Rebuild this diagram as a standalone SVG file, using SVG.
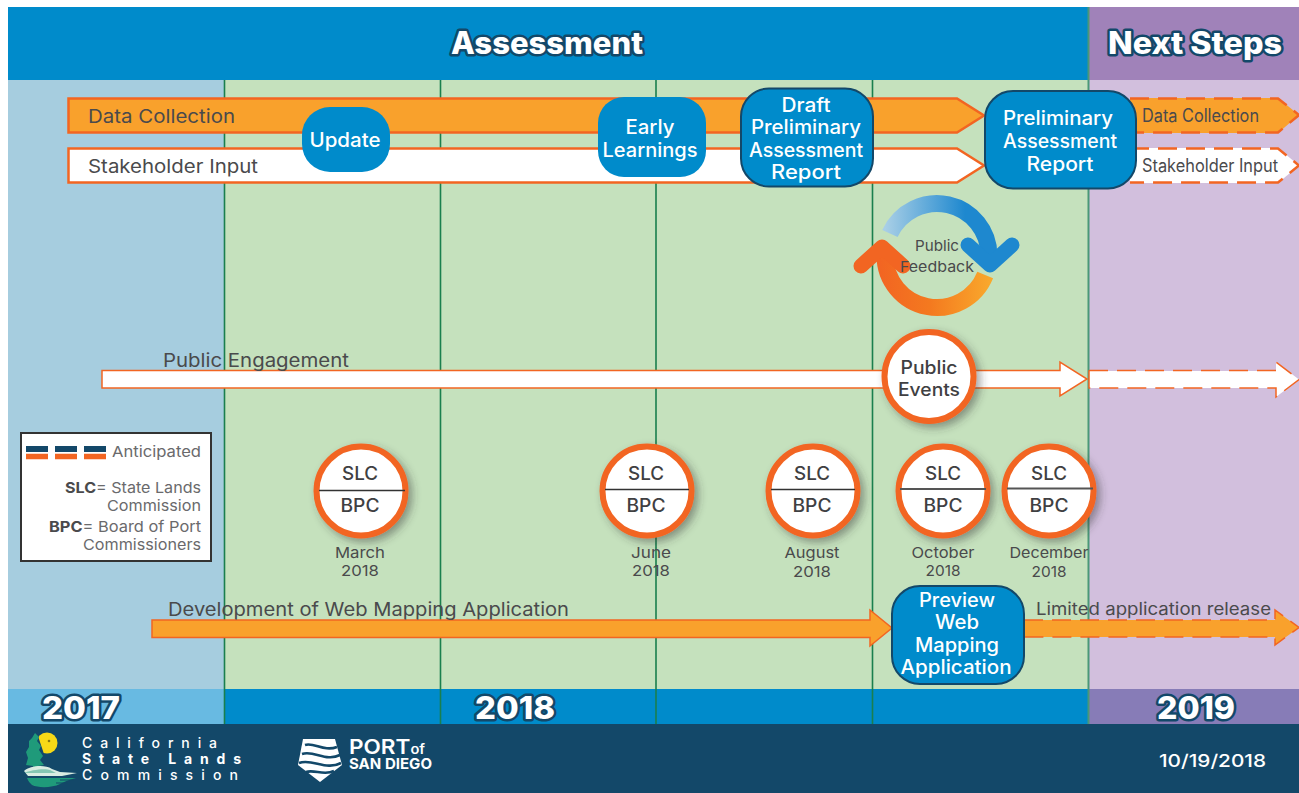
<svg xmlns="http://www.w3.org/2000/svg" width="1299" height="793" viewBox="0 0 1299 793">
<style>
text{font-family:"Inter","Liberation Sans",sans-serif;fill:#4a4a4c}
.lbl{font-size:18.5px}
.sm{font-size:15px}
.wh{fill:#fff;font-size:19.500px;font-weight:500;text-anchor:middle}
.hd{fill:#fff;font-weight:800;font-size:31px;stroke:#134869;stroke-width:5px;paint-order:stroke;stroke-linejoin:round;text-anchor:middle}
.cap{font-size:15px;text-anchor:middle}
.ab{font-size:18px;font-weight:500;fill:#3f4042;text-anchor:middle}
.bar-o{fill:#f9a12c;stroke:#f26522;stroke-width:2.5}
.bar-w{fill:#fff;stroke:#f26522;stroke-width:2.5}
.thin-o{fill:#f9a12c;stroke:#f26522;stroke-width:1.5}
.thin-w{fill:#fff;stroke:#f26522;stroke-width:1.5}
.dash{stroke-dasharray:19 9}
.box{fill:#008bcb}
.boxd{fill:#008bcb;stroke:#134869;stroke-width:2}
.circ{fill:#fff;stroke:#f26522;stroke-width:6;filter:url(#sh)}
.grid{stroke:#1a7f4e;stroke-width:1.6;fill:none}
.foot{fill:#fff;font-size:14px;font-weight:500}
</style>
<defs>
<filter id="sh" x="-30%" y="-30%" width="170%" height="170%"><feDropShadow dx="4" dy="4" stdDeviation="4" flood-color="#333" flood-opacity=".45"/></filter>
<linearGradient id="gb" gradientUnits="userSpaceOnUse" x1="885" y1="220" x2="965" y2="220"><stop offset="0" stop-color="#a9cfe6"/><stop offset="1" stop-color="#1e88cf"/></linearGradient>
<linearGradient id="go" gradientUnits="userSpaceOnUse" x1="880" y1="290" x2="990" y2="290"><stop offset="0" stop-color="#f26522"/><stop offset=".45" stop-color="#f4791f"/><stop offset="1" stop-color="#f9a82c"/></linearGradient>
</defs>

<g id="background">
<rect x="8" y="7" width="1291" height="73" fill="#008bcb"/>
<rect x="1088" y="7" width="211" height="73" fill="#a082b9"/>
<rect x="8" y="80" width="216" height="609" fill="#a6cddf"/>
<rect x="224" y="80" width="864" height="609" fill="#c5e1bd"/>
<rect x="1088" y="80" width="211" height="609" fill="#d2bfdd"/>
<rect x="8" y="689" width="216" height="35" fill="#68bae2"/>
<rect x="224" y="689" width="864" height="35" fill="#008bcb"/>
<rect x="1088" y="689" width="211" height="35" fill="#877cb7"/>
<rect x="8" y="724" width="1291" height="69" fill="#134869"/>
<path class="grid" d="M224.500 80V724M440.500 80V724M656 80V724M872.500 80V724"/>
<path d="M1088.500 7V724" stroke="#4a9878" stroke-width="2" fill="none"/>
</g>

<text class="hd" x="547" y="54" textLength="192" lengthAdjust="spacingAndGlyphs">Assessment</text>
<text class="hd" x="1195" y="54" textLength="174" lengthAdjust="spacingAndGlyphs">Next Steps</text>
<text class="hd" x="81" y="719" textLength="78" lengthAdjust="spacingAndGlyphs">2017</text>
<text class="hd" x="515" y="719" textLength="80" lengthAdjust="spacingAndGlyphs">2018</text>
<text class="hd" x="1196" y="719" textLength="78" lengthAdjust="spacingAndGlyphs">2019</text>

<g id="connectors">
<path class="bar-o" d="M68.500 98.500H957L984 115.500L957 132.500H68.500Z"/>
<path class="bar-w" d="M68.500 148.500H957L984 165.500L957 182.500H68.500Z"/>
<path d="M1130 98H1278L1299 115L1278 133H1130Z" fill="#f9a12c"/>
<path class="dash" d="M1130 98.500H1278L1299 115L1278 132.500H1130" fill="none" stroke="#f26522" stroke-width="2.500"/>
<path d="M1130 148H1278L1299 165.500L1278 183H1130Z" fill="#fff"/>
<path class="dash" d="M1130 148.500H1278L1299 165.500L1278 182.500H1130" fill="none" stroke="#f26522" stroke-width="2.500"/>
<path class="thin-w" d="M102 370.500H1060V362L1087 379L1060 396V388H102Z"/>
<path d="M1089 371H1276V362L1299 379.500L1276 397V388H1089Z" fill="#fff"/>
<path class="dash" d="M1089 370.500H1276V362L1299 379.500L1276 397V388H1089V370" fill="none" stroke="#f26522" stroke-width="1.500"/>
<path class="thin-o" d="M152 620H870V610L892 628L870 646V637.500H152Z"/>
<path d="M1024 620H1275V610L1299 627.500L1275 645V637H1024Z" fill="#f9a12c"/>
<path class="dash" d="M1024 620H1275V610L1299 627.500L1275 645V637H1024" fill="none" stroke="#f26522" stroke-width="1.500" stroke-dasharray="15 8"/>
</g>

<text class="lbl" x="88" y="123" textLength="147" lengthAdjust="spacingAndGlyphs">Data Collection</text>
<text class="lbl" x="88" y="173" textLength="170" lengthAdjust="spacingAndGlyphs">Stakeholder Input</text>
<text class="lbl" x="1142" y="122" style="font-size:18px" textLength="117" lengthAdjust="spacingAndGlyphs">Data Collection</text>
<text class="lbl" x="1142" y="172" style="font-size:18px" textLength="136" lengthAdjust="spacingAndGlyphs">Stakeholder Input</text>
<text class="lbl" x="163" y="367" textLength="186" lengthAdjust="spacingAndGlyphs">Public Engagement</text>
<text class="lbl" x="168" y="616" textLength="401" lengthAdjust="spacingAndGlyphs">Development of Web Mapping Application</text>
<text class="lbl" x="1036" y="615" style="font-size:17px" textLength="235" lengthAdjust="spacingAndGlyphs">Limited application release</text>

<g id="node-update"><rect class="box" x="302" y="107" width="88" height="65" rx="28"/><text class="wh" x="345" y="147" textLength="71" lengthAdjust="spacingAndGlyphs">Update</text></g>
<g id="node-early"><rect class="box" x="598" y="97" width="108" height="80" rx="26"/><text class="wh" x="650" y="134" textLength="49" lengthAdjust="spacingAndGlyphs">Early</text><text class="wh" x="650" y="157" textLength="95" lengthAdjust="spacingAndGlyphs">Learnings</text></g>
<g id="node-draft"><rect class="boxd" x="741" y="88.500" width="132" height="98" rx="28"/><text class="wh" x="806" y="112" textLength="49" lengthAdjust="spacingAndGlyphs">Draft</text><text class="wh" x="806" y="134" textLength="110" lengthAdjust="spacingAndGlyphs">Preliminary</text><text class="wh" x="806" y="157" textLength="114" lengthAdjust="spacingAndGlyphs">Assessment</text><text class="wh" x="806" y="179" textLength="70" lengthAdjust="spacingAndGlyphs">Report</text></g>
<g id="node-prelim"><rect class="boxd" x="985" y="91" width="151" height="97.500" rx="28"/><text class="wh" x="1058" y="125" textLength="110" lengthAdjust="spacingAndGlyphs">Preliminary</text><text class="wh" x="1060" y="148" textLength="114" lengthAdjust="spacingAndGlyphs">Assessment</text><text class="wh" x="1060" y="171" textLength="67" lengthAdjust="spacingAndGlyphs">Report</text></g>
<g id="node-preview"><rect class="boxd" x="892" y="586" width="132" height="98" rx="28"/><text class="wh" x="957" y="607" textLength="76" lengthAdjust="spacingAndGlyphs">Preview</text><text class="wh" x="957" y="629" textLength="44" lengthAdjust="spacingAndGlyphs">Web</text><text class="wh" x="957" y="652" textLength="84" lengthAdjust="spacingAndGlyphs">Mapping</text><text class="wh" x="956" y="674" textLength="111" lengthAdjust="spacingAndGlyphs">Application</text></g>

<g id="node-feedback">
<path d="M889.900 233.500A52 52 0 0 1 989 255.500" fill="none" stroke="url(#gb)" stroke-width="17"/>
<path d="M968 245L990 265L1012 245" fill="none" stroke="#1e88cf" stroke-width="15" stroke-linecap="round" stroke-linejoin="round"/>
<path d="M985.200 275A52 52 0 0 1 885 255.500" fill="none" stroke="url(#go)" stroke-width="17"/>
<path d="M861 266L882 247L903 266" fill="none" stroke="#f26522" stroke-width="15" stroke-linecap="round" stroke-linejoin="round"/>
<text class="cap" x="937" y="251" textLength="44" lengthAdjust="spacingAndGlyphs">Public</text>
<text class="cap" x="937" y="272" textLength="74" lengthAdjust="spacingAndGlyphs">Feedback</text>
</g>

<g id="node-public-events"><circle class="circ" cx="929" cy="376.500" r="44.500"/><text class="ab" x="929" y="374" textLength="57" lengthAdjust="spacingAndGlyphs">Public</text><text class="ab" x="929" y="396" textLength="62" lengthAdjust="spacingAndGlyphs">Events</text></g>

<g id="node-mar"><circle class="circ" cx="361" cy="491" r="44.500"/><path d="M319 490.500H405" stroke="#333" stroke-width="1.500"/><text class="ab" x="360" y="480" textLength="36" lengthAdjust="spacingAndGlyphs">SLC</text><text class="ab" x="360" y="512" textLength="39" lengthAdjust="spacingAndGlyphs">BPC</text><text class="cap" x="360" y="558" textLength="50" lengthAdjust="spacingAndGlyphs">March</text><text class="cap" x="360" y="576" textLength="38" lengthAdjust="spacingAndGlyphs">2018</text></g>
<g id="node-jun"><circle class="circ" cx="647" cy="491" r="44.500"/><path d="M605 489.500H689" stroke="#333" stroke-width="1.500"/><text class="ab" x="646" y="480" textLength="36" lengthAdjust="spacingAndGlyphs">SLC</text><text class="ab" x="646" y="512" textLength="39" lengthAdjust="spacingAndGlyphs">BPC</text><text class="cap" x="651" y="558" textLength="40" lengthAdjust="spacingAndGlyphs">June</text><text class="cap" x="651" y="576" textLength="38" lengthAdjust="spacingAndGlyphs">2018</text></g>
<g id="node-aug"><circle class="circ" cx="813" cy="491" r="44.500"/><path d="M771 489.500H855" stroke="#333" stroke-width="1.500"/><text class="ab" x="812" y="480" textLength="36" lengthAdjust="spacingAndGlyphs">SLC</text><text class="ab" x="812" y="512" textLength="39" lengthAdjust="spacingAndGlyphs">BPC</text><text class="cap" x="812" y="558" textLength="55" lengthAdjust="spacingAndGlyphs">August</text><text class="cap" x="812" y="577" textLength="38" lengthAdjust="spacingAndGlyphs">2018</text></g>
<g id="node-oct"><circle class="circ" cx="943" cy="491" r="44.500"/><path d="M900 489H986" stroke="#555" stroke-width="2"/><text class="ab" x="943" y="480" textLength="36" lengthAdjust="spacingAndGlyphs">SLC</text><text class="ab" x="943" y="512" textLength="39" lengthAdjust="spacingAndGlyphs">BPC</text><text class="cap" x="943" y="558" textLength="63" lengthAdjust="spacingAndGlyphs">October</text><text class="cap" x="943" y="576" textLength="35" lengthAdjust="spacingAndGlyphs">2018</text></g>
<g id="node-dec"><circle class="circ" cx="1049" cy="491" r="44.500"/><path d="M1007 488.500H1093" stroke="#555" stroke-width="2"/><text class="ab" x="1049" y="480" textLength="36" lengthAdjust="spacingAndGlyphs">SLC</text><text class="ab" x="1049" y="512" textLength="39" lengthAdjust="spacingAndGlyphs">BPC</text><text class="cap" x="1049" y="558" textLength="79" lengthAdjust="spacingAndGlyphs">December</text><text class="cap" x="1049" y="577" textLength="35" lengthAdjust="spacingAndGlyphs">2018</text></g>

<g id="legend">
<rect x="21" y="433" width="190" height="128" fill="#fff" stroke="#333" stroke-width="2"/>
<path d="M26 449H48M55 449H77M84 449H106" stroke="#134869" stroke-width="6"/>
<path d="M26 456.500H48M55 456.500H77M84 456.500H106" stroke="#f26522" stroke-width="5.500"/>
<text class="sm" x="112" y="457" textLength="89" lengthAdjust="spacingAndGlyphs" style="fill:#6a6a6c">Anticipated</text>
<text class="sm" x="65" y="493" textLength="136" lengthAdjust="spacingAndGlyphs"><tspan font-weight="700">SLC</tspan><tspan style="fill:#6a6a6c">= State Lands</tspan></text>
<text class="sm" x="107" y="511" textLength="94" lengthAdjust="spacingAndGlyphs" style="fill:#6a6a6c">Commission</text>
<text class="sm" x="49" y="532" textLength="152" lengthAdjust="spacingAndGlyphs"><tspan font-weight="700">BPC</tspan><tspan style="fill:#6a6a6c">= Board of Port</tspan></text>
<text class="sm" x="83" y="550" textLength="118" lengthAdjust="spacingAndGlyphs" style="fill:#6a6a6c">Commissioners</text>
</g>

<g id="footer">
<circle cx="47" cy="743" r="10.500" fill="#f7d917"/>
<circle cx="49" cy="741" r="1.300" fill="#8a7a10"/>
<path d="M44 754C41 757 41 761 44 766L36 769L34 760C36 752 34 745 38 736Z" fill="#134869"/>
<path d="M35 733L39 737L37 741L41 746L39 750L43 756L40 760L44 765L38 766L37 771H33L33 766L26 765L28 758L26 752L29 747L29 741L32 738Z" fill="#1f9a7a"/>
<path d="M24 771C30 766 44 764 52 769L60 772L77 773L62 776H28Z" fill="#d9ece2"/>
<path d="M24 773C30 770 45 768 50 770L56 773H26Z" fill="#1f9a7a" opacity=".45"/>
<path d="M27 778H76C68 780 64 782 60 784C52 788 38 788 32 785C30 783 28 781 27 778Z" fill="#1f9a7a"/>
<path d="M60 780H74M56 783H68" stroke="#134869" stroke-width="1"/>
<text class="foot" x="82" y="748" textLength="135">California</text>
<text class="foot" x="82" y="764" style="font-weight:700" textLength="159">State Lands</text>
<text class="foot" x="82" y="780" textLength="156">Commission</text>
<path d="M303 739H335L342 765L320 782L298 765Z" fill="#fff"/>
<path d="M305 745C314 742 324 752 337 747M302 754C314 750 326 762 340 755M299 763C312 758 326 771 341 763M306 772C314 769 324 776 334 771" fill="none" stroke="#134869" stroke-width="2.600"/>
<text x="349" y="754" style="fill:#fff;font-size:20px;font-weight:600" textLength="76" lengthAdjust="spacingAndGlyphs">PORT<tspan style="font-size:13px">of</tspan></text>
<text x="349" y="769" style="fill:#fff;font-size:14.500px;font-weight:700" textLength="83" lengthAdjust="spacingAndGlyphs">SAN DIEGO</text>
<text x="1159" y="767" style="fill:#fff;font-size:17.500px;font-weight:500" textLength="107" lengthAdjust="spacingAndGlyphs">10/19/2018</text>
</g>
</svg>
